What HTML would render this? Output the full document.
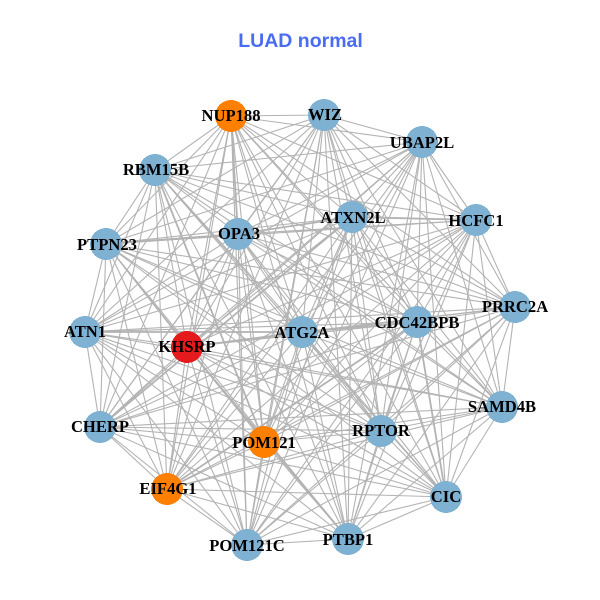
<!DOCTYPE html>
<html>
<head>
<meta charset="utf-8">
<style>
html,body{margin:0;padding:0;background:#fff;width:600px;height:600px;overflow:hidden}
svg{display:block}
.e{fill:none;stroke:#b3b3b3;stroke-width:1.1;stroke-linejoin:bevel}
.t{fill:none;stroke:#b3b3b3;stroke-width:1.8}
circle{stroke:none;shape-rendering:crispEdges}
.b{fill:#7fb1d3}.o{fill:#ff7f00}.r{fill:#e41a1c}
text.l{font-family:"Liberation Serif",serif;font-weight:bold;font-size:16.6px;fill:#000;text-anchor:middle}
</style>
</head>
<body>
<svg width="600" height="600" viewBox="0 0 600 600" xmlns="http://www.w3.org/2000/svg">
<rect width="600" height="600" fill="#fff"/>
<text x="300.5" y="47" text-anchor="middle" style="font-family:'Liberation Sans',sans-serif;font-weight:bold;font-size:19.5px;fill:#4a6cf2">LUAD normal</text>
<g class="e">
<polyline points="302,332 231,116 324,115 187,347 422,142 264,442 476,220 381,431 515,307 417,322 502,407 352,217 446,497 238,234 348,539 155,170 247,545 106,244 167,489 85,332 100,427 302,332"/>
<polyline points="302,332 324,115 422,142 231,116 476,220 187,347 515,307 264,442 502,407 381,431 446,497 417,322 348,539 352,217 247,545 238,234 167,489 155,170 100,427 106,244 85,332 302,332"/>
<polyline points="302,332 422,142 476,220 324,115 515,307 231,116 502,407 187,347 446,497 264,442 348,539 381,431 247,545 417,322 167,489 352,217 100,427 238,234 85,332 155,170 106,244 302,332"/>
<polyline points="302,332 476,220 515,307 422,142 502,407 324,115 446,497 231,116 348,539 187,347 247,545 264,442 167,489 381,431 100,427 417,322 85,332 352,217 106,244 238,234 155,170 302,332"/>
<polyline points="302,332 515,307 502,407 476,220 446,497 422,142 348,539 324,115 247,545 231,116 167,489 187,347 100,427 264,442 85,332 381,431 106,244 417,322 155,170 352,217 238,234 302,332"/>
<polyline points="302,332 502,407 446,497 515,307 348,539 476,220 247,545 422,142 167,489 324,115 100,427 231,116 85,332 187,347 106,244 264,442 155,170 381,431 238,234 417,322 352,217 302,332"/>
<polyline points="302,332 446,497 348,539 502,407 247,545 515,307 167,489 476,220 100,427 422,142 85,332 324,115 106,244 231,116 155,170 187,347 238,234 264,442 352,217 381,431 417,322 302,332"/>
<polyline points="302,332 348,539 247,545 446,497 167,489 502,407 100,427 515,307 85,332 476,220 106,244 422,142 155,170 324,115 238,234 231,116 352,217 187,347 417,322 264,442 381,431 302,332"/>
<polyline points="302,332 247,545 167,489 348,539 100,427 446,497 85,332 502,407 106,244 515,307 155,170 476,220 238,234 422,142 352,217 324,115 417,322 231,116 381,431 187,347 264,442 302,332"/>
<polyline points="302,332 167,489 100,427 247,545 85,332 348,539 106,244 446,497 155,170 502,407 238,234 515,307 352,217 476,220 417,322 422,142 381,431 324,115 264,442 231,116 187,347 302,332"/>
</g>
<path class="t" d="M106 244L238 234M238 234L352 217M155 170L264 442M187 347L348 539M302 332L417 322M302 332L187 347M100 427L352 217M167 489L417 322M417 322L446 497M231 116L238 234M85 332L302 332M352 217L476 220"/>
<g>
<circle class="o" cx="231" cy="116" r="16"/>
<circle class="b" cx="324" cy="115" r="16"/>
<circle class="b" cx="422" cy="142" r="16"/>
<circle class="b" cx="476" cy="220" r="16"/>
<circle class="b" cx="515" cy="307" r="16"/>
<circle class="b" cx="502" cy="407" r="16"/>
<circle class="b" cx="446" cy="497" r="16"/>
<circle class="b" cx="348" cy="539" r="16"/>
<circle class="b" cx="247" cy="545" r="16"/>
<circle class="o" cx="167" cy="489" r="16"/>
<circle class="b" cx="100" cy="427" r="16"/>
<circle class="b" cx="85" cy="332" r="16"/>
<circle class="b" cx="106" cy="244" r="16"/>
<circle class="b" cx="155" cy="170" r="16"/>
<circle class="b" cx="238" cy="234" r="16"/>
<circle class="b" cx="352" cy="217" r="16"/>
<circle class="b" cx="417" cy="322" r="16"/>
<circle class="b" cx="381" cy="431" r="16"/>
<circle class="o" cx="264" cy="442" r="16"/>
<circle class="r" cx="187" cy="347" r="16"/>
<circle class="b" cx="302" cy="332" r="16"/>
</g>
<g>
<text class="l" x="231" y="121">NUP188</text>
<text class="l" x="325" y="120">WIZ</text>
<text class="l" x="422" y="148">UBAP2L</text>
<text class="l" x="476" y="226">HCFC1</text>
<text class="l" x="515" y="312">PRRC2A</text>
<text class="l" x="502" y="412">SAMD4B</text>
<text class="l" x="446" y="502">CIC</text>
<text class="l" x="348" y="545">PTBP1</text>
<text class="l" x="247" y="551">POM121C</text>
<text class="l" x="168" y="494">EIF4G1</text>
<text class="l" x="100" y="432">CHERP</text>
<text class="l" x="85" y="337">ATN1</text>
<text class="l" x="107" y="250">PTPN23</text>
<text class="l" x="156" y="175">RBM15B</text>
<text class="l" x="239" y="239">OPA3</text>
<text class="l" x="353" y="223">ATXN2L</text>
<text class="l" x="417" y="328">CDC42BPB</text>
<text class="l" x="381" y="436">RPTOR</text>
<text class="l" x="264" y="448">POM121</text>
<text class="l" x="187" y="352">KHSRP</text>
<text class="l" x="302" y="338">ATG2A</text>
</g>
</svg>
</body>
</html>
